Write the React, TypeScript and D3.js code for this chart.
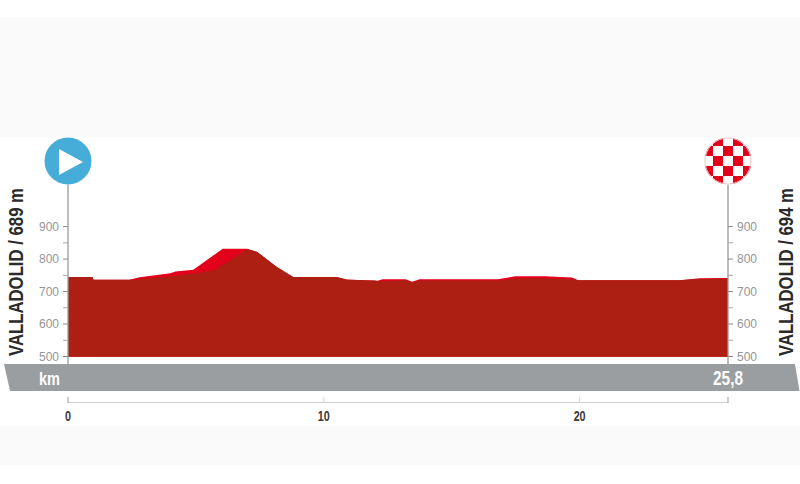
import React from "react";
import * as d3 from "d3";

// Elevation profile (km, metres)
const darkKm = [0, 0.95, 1.0, 2.5, 3.7, 4.4, 4.9, 5.75, 7.0, 7.4, 8.15, 8.8, 10.5, 10.9, 12, 12.1, 13.2, 13.45, 13.75, 16.8, 17.5, 18.65, 19.7, 19.95, 23.9, 24.7, 25.8];
const darkElev = [745, 745, 736, 736, 744, 750, 755, 767, 830, 822, 776, 745, 745, 736, 734, 732, 735, 729, 734, 734, 740, 741, 738, 735, 735, 739, 740];
const brightKm = [0, 0.95, 1.0, 2.4, 2.8, 4.0, 4.2, 4.9, 6.05, 7.0, 7.4, 8.15, 8.8, 10.5, 10.9, 12.1, 12.3, 13.2, 13.45, 13.75, 16.8, 17.5, 18.65, 19.7, 19.95, 23.9, 24.7, 25.8];
const brightElev = [745, 745, 736, 736, 744, 756, 762, 767, 832, 832, 822, 776, 745, 745, 737, 733, 738, 738, 730, 738, 738, 747, 747, 743, 735, 735, 741, 742];

const elevTicks = [500, 600, 700, 800, 900];
const elevMinorTicks = [550, 650, 750, 850];
const kmTicks = [0, 10, 20, 25.8];
const kmLabels = [0, 10, 20];
const totalLabel = "25,8";
const startLabel = "VALLADOLID / 689 m";
const finishLabel = "VALLADOLID / 694 m";
const flagCells = [-3, -2, -1, 0, 1, 2, 3];

const x = d3.scaleLinear().domain([0, 25.8]).range([68, 728]);
const y = d3.scaleLinear().domain([500, 900]).range([356.5, 226.6]);

const areaGen = d3
  .area<[number, number]>()
  .x((d) => x(d[0]))
  .y0(y(499))
  .y1((d) => y(d[1]));

const darkPath = areaGen(darkKm.map((k, i) => [k, darkElev[i]] as [number, number])) as string;
const brightPath = areaGen(brightKm.map((k, i) => [k, brightElev[i]] as [number, number])) as string;

const sans = "'Liberation Sans', Arial, sans-serif";

export default function App() {
  const [x0, x1] = x.range();
  const cy = 161;
  const r = 23.5;
  return (
    <svg width={800} height={484} style={{ position: "absolute", left: 0, top: 0, background: "#fff" }}>
      <defs>
        <clipPath id="flag">
          <circle cx={x1} cy={cy} r={r} />
        </clipPath>
      </defs>
      <rect x={0} y={17} width={800} height={120} fill="#fafafa" />
      <rect x={0} y={426} width={800} height={39} fill="#fafafa" />

      <path d={brightPath} fill="#e3001b" />
      <path d={darkPath} fill="#ad1f12" />

      {[x0, x1].map((ax) => (
        <line key={ax} x1={ax} x2={ax} y1={cy + r} y2={364} stroke="#9a9a9a" strokeWidth={1.3} />
      ))}
      {elevTicks.map((t) => (
        <g key={t}>
          <line x1={x0 - 5} x2={x0} y1={y(t)} y2={y(t)} stroke="#8a8a8a" />
          <line x1={x1} x2={x1 + 5} y1={y(t)} y2={y(t)} stroke="#8a8a8a" />
          <text x={x0 - 9} y={y(t) + 4.3} textAnchor="end" fontFamily={sans} fontSize={12} fill="#959595">
            {t}
          </text>
          <text x={x1 + 9} y={y(t) + 4.3} fontFamily={sans} fontSize={12} fill="#959595">
            {t}
          </text>
        </g>
      ))}
      {elevMinorTicks.map((t) => (
        <g key={t}>
          <line x1={x0 - 5} x2={x0} y1={y(t)} y2={y(t)} stroke="#a8a8a8" />
          <line x1={x1} x2={x1 + 5} y1={y(t)} y2={y(t)} stroke="#a8a8a8" />
        </g>
      ))}

      <circle cx={x0} cy={cy} r={r} fill="#45add8" />
      <polygon
        points={`${x0 - 9},${cy - 12} ${x0 - 9},${cy + 14} ${x0 + 15},${cy + 1}`}
        fill="#fff"
      />

      <circle cx={x1} cy={cy} r={r} fill="#fff" />
      <g clipPath="url(#flag)">
        {flagCells.flatMap((i) =>
          flagCells
            .filter((j) => Math.abs(i + j) % 2 === 1)
            .map((j) => (
              <rect key={`${i}:${j}`} x={x1 + i * 10 - 5} y={cy + j * 10 - 5} width={10} height={10} fill="#e3001b" />
            ))
        )}
      </g>
      <circle cx={x1} cy={cy} r={r - 0.5} fill="none" stroke="#f6c4c4" strokeWidth={1} />

      <text
        transform="translate(23,356) rotate(-90)"
        fontFamily={sans}
        fontWeight={700}
        fontSize={21}
        fill="#2b2b2b"
        textLength={168}
        lengthAdjust="spacingAndGlyphs"
      >
        {startLabel}
      </text>
      <text
        transform="translate(792.5,356) rotate(-90)"
        fontFamily={sans}
        fontWeight={700}
        fontSize={21}
        fill="#2b2b2b"
        textLength={168}
        lengthAdjust="spacingAndGlyphs"
      >
        {finishLabel}
      </text>

      <polygon points="4,364 795,364 799.5,391 10,391" fill="#9a9ea1" />
      <text x={39} y={384.5} fontFamily={sans} fontWeight={700} fontSize={19} fill="#fff" textLength={21} lengthAdjust="spacingAndGlyphs">
        km
      </text>
      <text x={713} y={385} fontFamily={sans} fontWeight={700} fontSize={20} fill="#fff" textLength={30} lengthAdjust="spacingAndGlyphs">
        {totalLabel}
      </text>

      <line x1={x0} x2={x1} y1={402.5} y2={402.5} stroke="#d0d0d0" />
      {kmTicks.map((t) => (
        <line key={t} x1={x(t)} x2={x(t)} y1={397} y2={403} stroke={t === 0 || t === 25.8 ? "#9a9a9a" : "#d0d0d0"} />
      ))}
      {kmLabels.map((t) => (
        <text
          key={t}
          x={x(t) - String(t).length * 3}
          y={420.5}
          fontFamily={sans}
          fontWeight={700}
          fontSize={15}
          fill="#3a3a3a"
          textLength={String(t).length * 6}
          lengthAdjust="spacingAndGlyphs"
        >
          {t}
        </text>
      ))}
    </svg>
  );
}
